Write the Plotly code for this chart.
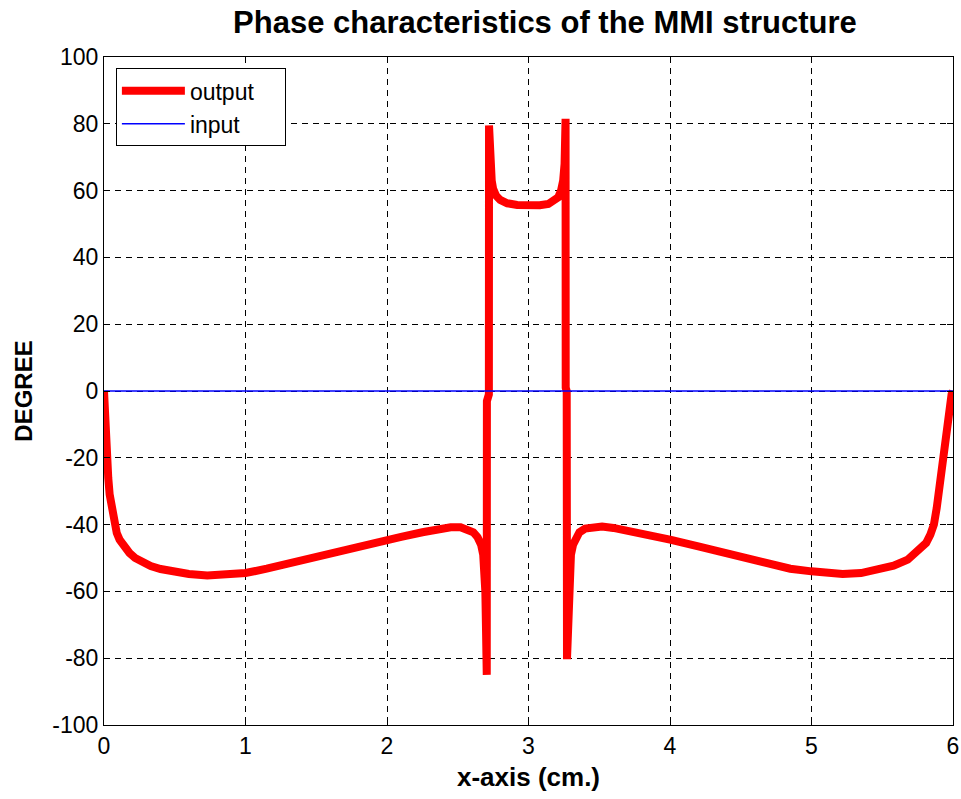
import plotly.graph_objects as go

# Output phase (degrees) vs position (cm)
x_output = [0.0, 0.005, 0.012, 0.02, 0.03, 0.04, 0.055, 0.07, 0.09, 0.11, 0.14, 0.18, 0.22, 0.27,
            0.33, 0.4, 0.5, 0.6, 0.73, 0.85, 1.0, 1.15, 1.31, 1.5, 1.7, 1.9, 2.1, 2.25, 2.37, 2.45,
            2.52, 2.57, 2.61, 2.64, 2.665, 2.68, 2.69, 2.695, 2.70, 2.705, 2.706, 2.72, 2.721,
            2.725, 2.73, 2.74, 2.75, 2.77, 2.8, 2.85, 2.92, 3.0, 3.08, 3.14, 3.18, 3.21, 3.23,
            3.245, 3.255, 3.262, 3.263, 3.27, 3.272, 3.278, 3.285, 3.292, 3.30, 3.315, 3.335,
            3.36, 3.4, 3.45, 3.52, 3.6, 3.7, 3.85, 4.0, 4.2, 4.4, 4.64, 4.85, 5.0, 5.1, 5.22,
            5.35, 5.47, 5.58, 5.68, 5.77, 5.81, 5.84, 5.865, 5.885, 5.905, 5.925, 5.945, 5.96,
            5.975, 5.99, 6.0]
y_output = [0.0, -8, -16, -21, -26, -31, -35, -39, -42.5, -44.5, -46.5, -48.5, -50, -51.3,
            -52.4, -53.3, -54.2, -54.8, -55.2, -55.1, -54.5, -53.2, -51.5, -49.5, -47.5, -45.5,
            -43.7, -42.3, -41.2, -40.8, -40.8, -41.3, -42.3, -43.8, -46, -49, -53, -60, -72,
            -85, -3, -1, 79.5, 72, 67, 63, 60.5, 58.5, 57.2, 56.2, 55.7, 55.5, 55.6, 56, 56.8,
            58, 60, 63, 68, 81.5, 1, 0, -80.3, -70, -60, -53, -49, -46, -43.8, -42.3, -41.2,
            -40.7, -40.6, -41, -41.8, -43.2, -44.5, -46.5, -48.5, -51.2, -53.2, -54, -54.5,
            -54.8, -54.5, -53.5, -52.3, -50.5, -47.5, -45.5, -43, -40, -35, -28, -20, -13,
            -7, -3, -1, 0.0]

# Input phase
x_input = [0.0, 6.0]
y_input = [0.0, 0.0]

x_ticks = [0, 1, 2, 3, 4, 5, 6]
y_ticks = [-100, -80, -60, -40, -20, 0, 20, 40, 60, 80, 100]
y_tick_text = ["-100", "-80", "-60", "-40", "-20", "0", "20", "40", "60", "80", "100"]

FONT = "Liberation Sans, Arial, sans-serif"

fig = go.Figure()
fig.add_trace(go.Scatter(x=x_output, y=y_output, mode="lines", name="output\u00a0\u00a0\u00a0\u00a0",
                         line=dict(color="#ff0000", width=8)))
fig.add_trace(go.Scatter(x=x_input, y=y_input, mode="lines", name="input",
                         line=dict(color="#0000ff", width=1.5)))

axis_common = dict(
    showline=True, linecolor="black", linewidth=1, mirror="ticks",
    ticks="inside", ticklen=6, tickcolor="black",
    showgrid=True, gridcolor="black", gridwidth=1, griddash="6px,5px",
    zeroline=False, automargin=False,
    tickfont=dict(family=FONT, size=23, color="black"),
)

fig.update_xaxes(range=[0, 6], tickvals=x_ticks,
                 title=dict(text="<b>x-axis (cm.)</b>", font=dict(family=FONT, size=26, color="black"),
                            standoff=10),
                 **axis_common)
fig.update_yaxes(range=[-100, 100], tickvals=y_ticks, ticktext=y_tick_text,
                 title=dict(text="<b>DEGREE</b>", font=dict(family=FONT, size=24, color="black"),
                            standoff=12),
                 **axis_common)

fig.update_layout(
    width=961, height=799,
    margin=dict(l=104, r=8, t=57, b=74),
    paper_bgcolor="white", plot_bgcolor="white",
    title=dict(text="<b>Phase characteristics of the MMI structure</b>",
               font=dict(family=FONT, size=31, color="black"),
               x=0.567, xanchor="center", y=0.972, yanchor="middle"),
    legend=dict(x=0.014, y=0.983, xanchor="left", yanchor="top",
                bgcolor="white", bordercolor="black", borderwidth=1,
                font=dict(family=FONT, size=23, color="black"),
                itemwidth=63),
    showlegend=True,
)

fig.write_html("out.html")
